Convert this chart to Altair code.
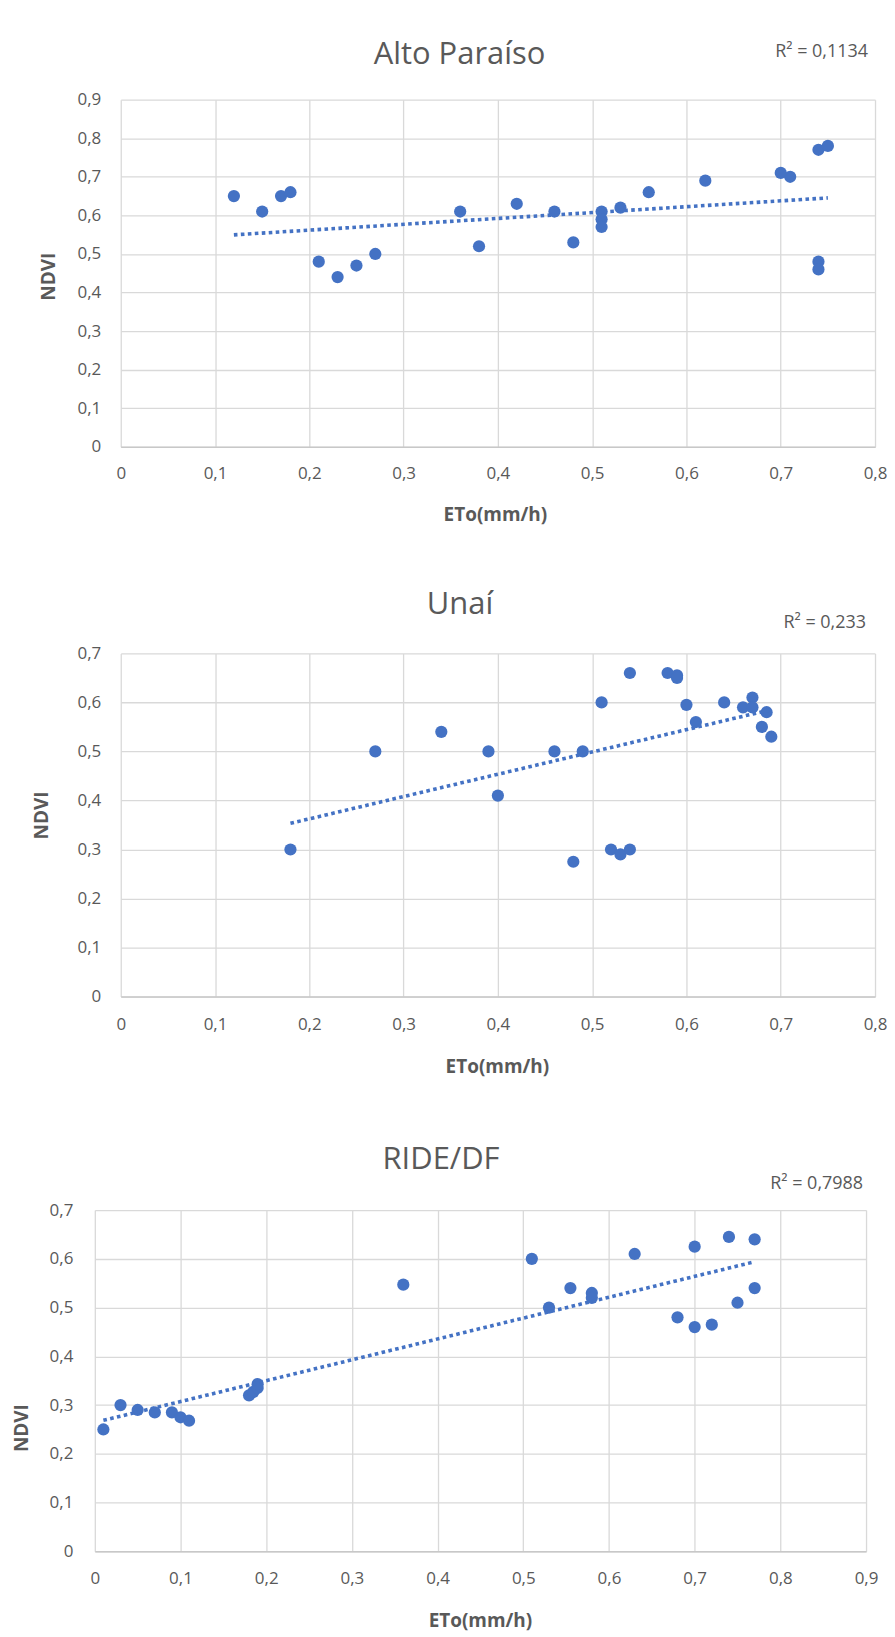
import altair as alt
import pandas as pd

BLUE = "#4472C4"
GRAY = "#595959"
FONT = "Open Sans"

# ---------------- data ----------------
titles = ["Alto Paraíso", "Unaí", "RIDE/DF"]
r2_texts = ["R² = 0,1134", "R² = 0,233", "R² = 0,7988"]

ap_x = [0.12, 0.15, 0.17, 0.18, 0.21, 0.23, 0.25, 0.27, 0.36, 0.38, 0.42, 0.46, 0.48,
        0.51, 0.51, 0.51, 0.53, 0.56, 0.62, 0.70, 0.71, 0.74, 0.75, 0.74, 0.74]
ap_y = [0.65, 0.61, 0.65, 0.66, 0.48, 0.44, 0.47, 0.50, 0.61, 0.52, 0.63, 0.61, 0.53,
        0.61, 0.59, 0.57, 0.62, 0.66, 0.69, 0.71, 0.70, 0.77, 0.78, 0.48, 0.46]

un_x = [0.18, 0.27, 0.34, 0.39, 0.40, 0.46, 0.48, 0.49, 0.51, 0.52, 0.53, 0.54, 0.54,
        0.58, 0.59, 0.59, 0.60, 0.61, 0.64, 0.66, 0.67, 0.67, 0.68, 0.685, 0.69]
un_y = [0.30, 0.50, 0.54, 0.50, 0.41, 0.50, 0.275, 0.50, 0.60, 0.30, 0.29, 0.30, 0.66,
        0.66, 0.655, 0.65, 0.595, 0.56, 0.60, 0.59, 0.61, 0.59, 0.55, 0.58, 0.53]

rd_x = [0.01, 0.03, 0.05, 0.07, 0.09, 0.10, 0.11, 0.18, 0.185, 0.19, 0.19, 0.36, 0.51,
        0.53, 0.555, 0.58, 0.58, 0.63, 0.68, 0.70, 0.70, 0.72, 0.74, 0.75, 0.77, 0.77]
rd_y = [0.25, 0.30, 0.29, 0.285, 0.285, 0.275, 0.268, 0.32, 0.327, 0.335, 0.343, 0.547, 0.60,
        0.50, 0.54, 0.53, 0.52, 0.61, 0.48, 0.625, 0.46, 0.465, 0.645, 0.51, 0.64, 0.54]

ticks_08 = [0, 0.1, 0.2, 0.3, 0.4, 0.5, 0.6, 0.7, 0.8]
ticks_09 = [0, 0.1, 0.2, 0.3, 0.4, 0.5, 0.6, 0.7, 0.8, 0.9]
ticks_07 = [0, 0.1, 0.2, 0.3, 0.4, 0.5, 0.6, 0.7]

x_title = "ETo(mm/h)"
y_title = "NDVI"

LABEL_EXPR = "datum.value == 0 ? '0' : replace(format(datum.value, '.1f'), '.', ',')"


def panel(xs, ys, title, r2, xt, yt, W, H, g):
    df = pd.DataFrame({"x": xs, "y": ys})
    xenc = alt.X(
        "x:Q",
        scale=alt.Scale(domain=[xt[0], xt[-1]], nice=False, zero=True),
        axis=alt.Axis(
            values=xt, labelExpr=LABEL_EXPR, grid=True, gridColor="#d9d9d9", gridWidth=1.3,
            domain=True, domainColor="#c8c8c8", domainWidth=1.5, ticks=False,
            labelPadding=g["xlp"], labelFont=FONT, labelFontSize=17, labelColor=GRAY,
            labelFlush=False, labelOverlap=False,
            title=x_title, titleFont=FONT, titleFontSize=19, titleFontWeight="bold",
            titleColor=GRAY, titleX=g["xtx"], titleY=g["xty"], titleBaseline="middle",
            titleAlign="center",
        ),
    )
    yenc = alt.Y(
        "y:Q",
        scale=alt.Scale(domain=[yt[0], yt[-1]], nice=False, zero=True),
        axis=alt.Axis(
            values=yt, labelExpr=LABEL_EXPR, grid=True, gridColor="#d9d9d9", gridWidth=1.3,
            domain=False, ticks=False, labelPadding=g["ylp"], labelFont=FONT,
            labelFontSize=17, labelColor=GRAY, labelFlush=False, labelOverlap=False,
            title=y_title, titleFont=FONT, titleFontSize=19, titleFontWeight="bold",
            titleColor=GRAY, titleAngle=270, titleX=g["ytx"], titleY=g["yty"],
            titleBaseline="middle", titleAlign="center",
        ),
    )
    base = alt.Chart(df)
    pts = base.mark_circle(size=150, color=BLUE, opacity=1).encode(x=xenc, y=yenc)
    trend = base.transform_regression("x", "y").mark_line(
        color=BLUE, strokeWidth=3.6, strokeDash=[3.6, 3.4], strokeCap="butt"
    ).encode(x=xenc, y=yenc)

    tdf = pd.DataFrame({"t": [title]})
    ttl = alt.Chart(tdf).mark_text(
        font=FONT, fontSize=31, color=GRAY, align="center", baseline="alphabetic"
    ).encode(x=alt.value(g["tx"]), y=alt.value(g["ty"]), text="t:N")

    rdf = pd.DataFrame({"t": [r2]})
    r2t = alt.Chart(rdf).mark_text(
        font=FONT, fontSize=18, color=GRAY, align="right", baseline="alphabetic"
    ).encode(x=alt.value(g["rx"]), y=alt.value(g["ry"]), text="t:N")

    # invisible layout anchors (fix the panel's outer bounds)
    mdf = pd.DataFrame({"t": ["."]})
    m_top = alt.Chart(mdf).mark_text(
        fontSize=1, opacity=0, align="left", baseline="top"
    ).encode(x=alt.value(g["ml"]), y=alt.value(g["mt"]), text="t:N")
    layers = [pts, trend, ttl, r2t, m_top]
    if g.get("mb") is not None:
        m_bot = alt.Chart(mdf).mark_text(
            fontSize=1, opacity=0, align="left", baseline="top"
        ).encode(x=alt.value(g["ml"]), y=alt.value(g["mb"]), text="t:N")
        layers.append(m_bot)
    return alt.layer(*layers).properties(width=W, height=H)


def spacer(w):
    sdf = pd.DataFrame({"t": [""]})
    return alt.Chart(sdf).mark_text(opacity=0, fontSize=1).encode(
        x=alt.value(0), y=alt.value(0), text="t:N"
    ).properties(width=w, height=1)


g1 = dict(xlp=19, xtx=375, xty=68, ylp=20, ytx=-72, yty=177,
          tx=339.5, ty=-35.5, rx=749, ry=-42.7, ml=-84, mt=-85, mb=461)
g2 = dict(xlp=20, xtx=377, xty=70, ylp=20, ytx=-79, yty=162,
          tx=340, ty=-39, rx=747, ry=-25, ml=-90, mt=-93, mb=451)
g3 = dict(xlp=19, xtx=386, xty=69, ylp=22, ytx=-73, yty=218,
          tx=347, ty=-41, rx=770, ry=-21, ml=-84, mt=-106, mb=None)

c1 = panel(ap_x, ap_y, titles[0], r2_texts[0], ticks_08, ticks_09, 756, 348, g1)
c2 = panel(un_x, un_y, titles[1], r2_texts[1], ticks_08, ticks_07, 756, 344, g2)
c3 = panel(rd_x, rd_y, titles[2], r2_texts[2], ticks_09, ticks_07, 773, 342, g3)

row1 = alt.hconcat(spacer(27), c1, spacing=0)
row2 = alt.hconcat(spacer(21), c2, spacing=0)
row3 = alt.hconcat(spacer(1), c3, spacing=0)

chart = alt.vconcat(row1, row2, row3, spacing=0).properties(
    padding={"left": 2, "top": 5, "right": 0, "bottom": 0},
    background="white",
).configure_view(strokeWidth=0)

chart.save("out.html", embed_options={"renderer": "svg", "actions": False})
